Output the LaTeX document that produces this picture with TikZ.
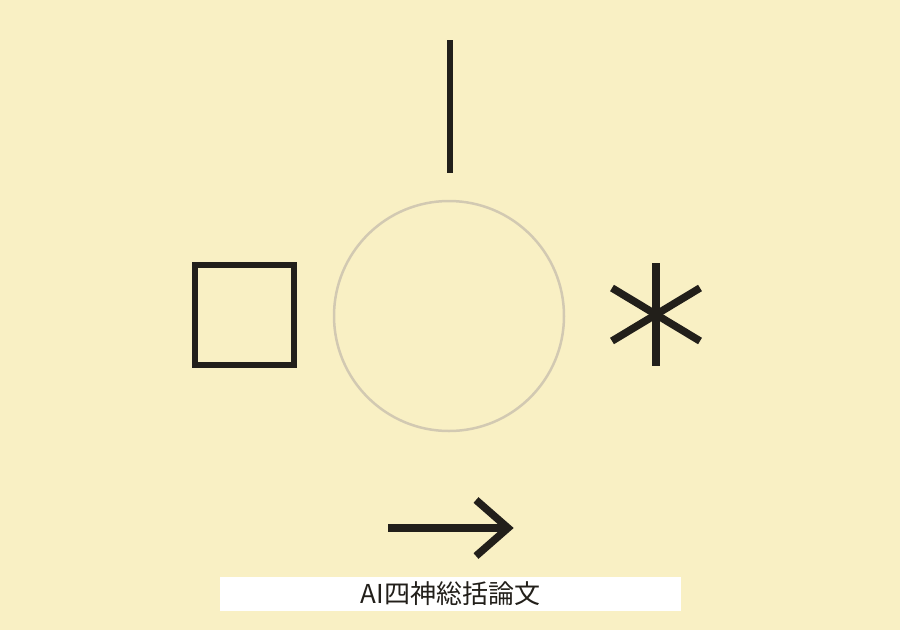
\documentclass[tikz,border=0pt]{standalone}
\usepackage{fontspec}
\newfontfamily\cjk{Noto Sans CJK JP}
\definecolor{bg}{HTML}{F9F0C4}
\definecolor{ink}{HTML}{221F1A}
\definecolor{ring}{HTML}{D2C9B2}
\begin{document}
\begin{tikzpicture}[x=1pt,y=-1pt,
  glyph/.style={draw=ink,line width=6.5pt},
  heavy/.style={draw=ink,line width=7.5pt},
  ringstyle/.style={draw=ring,line width=2.5pt},
  caption/.style={fill=white,minimum width=461pt,minimum height=34pt,inner sep=0pt,font=\cjk\fontsize{26}{30}\selectfont,text=ink}]
\fill[bg] (0,0) rectangle (900,630);
\useasboundingbox (0,0) rectangle (900,630);
% vertical bar
\coordinate (bt) at (450,40);
\coordinate (bb) at (450,173);
\draw[glyph] (bt) -- (bb);
% circle
\node[ringstyle,circle,minimum size=230pt,inner sep=0pt] (ring) at (449,316) {};
% square
\node[glyph,minimum width=99pt,minimum height=100pt,inner sep=0pt] (sq) at (244.5,315) {};
% asterisk
\coordinate (ast) at (656,315);
\draw[heavy] (656,263) -- (656,366);
\draw[heavy] (612,288) -- (700,341);
\draw[heavy] (612,341) -- (700,288);
% arrow
\coordinate (as) at (388,528);
\coordinate (ae) at (508,528);
\draw[heavy] (as) -- (ae);
\draw[heavy,line join=miter] (476,500) -- (508,528) -- (476,556);
% caption
\node[caption] (cap) at (450.5,594) {AI四神総括論文};
\end{tikzpicture}
\end{document}
